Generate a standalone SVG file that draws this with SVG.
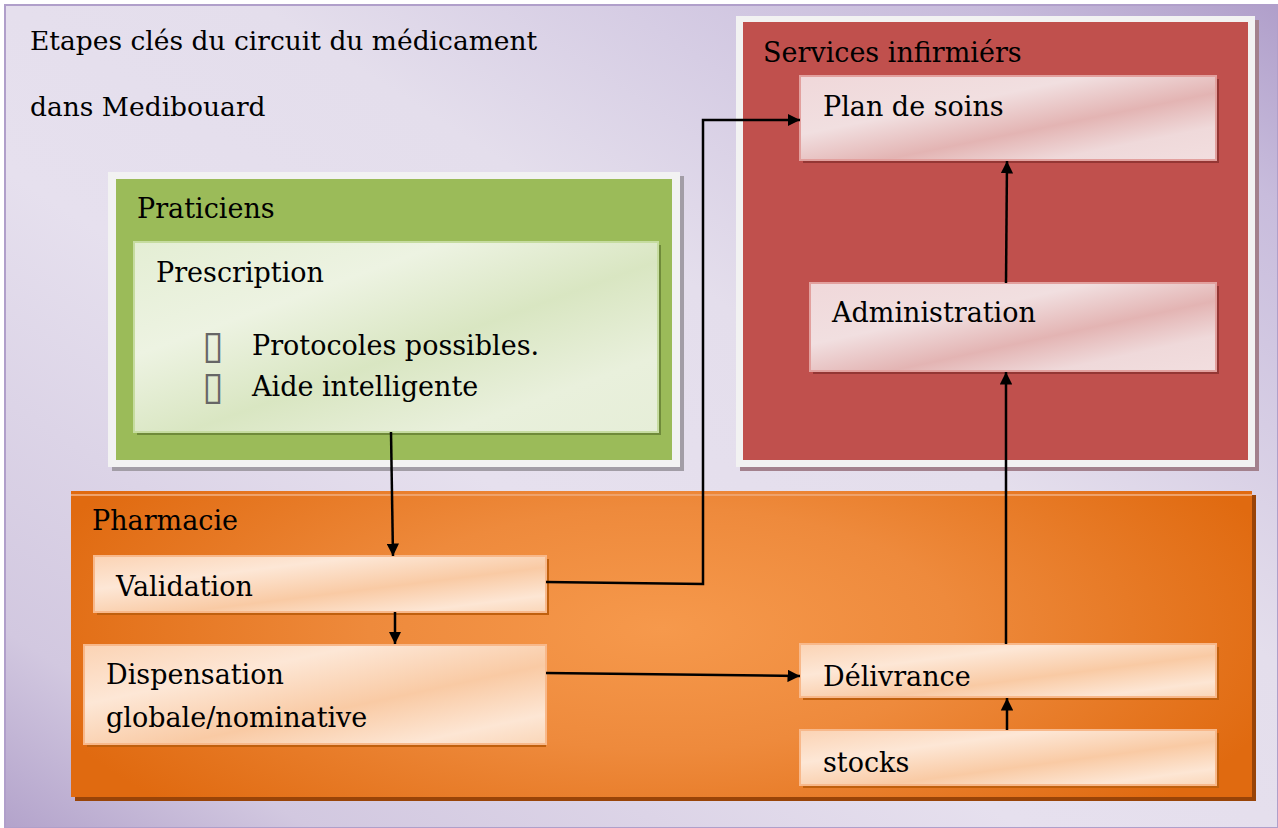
<svg xmlns="http://www.w3.org/2000/svg" width="1278" height="828" viewBox="0 0 1278 828">
<defs>
  <linearGradient id="bg" x1="0" y1="1" x2="1" y2="0">
    <stop offset="0" stop-color="#b3a3cb"/>
    <stop offset="0.12" stop-color="#d2c8e0"/>
    <stop offset="0.4" stop-color="#e6e0ee"/>
    <stop offset="0.6" stop-color="#e4deec"/>
    <stop offset="0.88" stop-color="#c8bcdc"/>
    <stop offset="1" stop-color="#b09fca"/>
  </linearGradient>
  <radialGradient id="orange" cx="0.5" cy="0.45" r="0.55" gradientTransform="translate(0.5 0.45) scale(1 1.6) translate(-0.5 -0.45)">
    <stop offset="0" stop-color="#f6994c"/>
    <stop offset="0.45" stop-color="#ee8a3c"/>
    <stop offset="1" stop-color="#e06a10"/>
  </radialGradient>
  <linearGradient id="gbox" x1="0" y1="0" x2="1" y2="1">
    <stop offset="0" stop-color="#e4eed4"/>
    <stop offset="0.3" stop-color="#edf3e2"/>
    <stop offset="0.55" stop-color="#d9e6c2"/>
    <stop offset="0.8" stop-color="#e9f0dc"/>
    <stop offset="1" stop-color="#e6eed8"/>
  </linearGradient>
  <linearGradient id="rbox" x1="0" y1="0" x2="1" y2="1">
    <stop offset="0" stop-color="#f0d8da"/>
    <stop offset="0.35" stop-color="#f1dfe0"/>
    <stop offset="0.6" stop-color="#e3b4b3"/>
    <stop offset="0.8" stop-color="#efd9da"/>
    <stop offset="1" stop-color="#f2dedf"/>
  </linearGradient>
  <linearGradient id="obox" x1="0" y1="0" x2="1" y2="1">
    <stop offset="0" stop-color="#fbd3b4"/>
    <stop offset="0.3" stop-color="#fde7d6"/>
    <stop offset="0.6" stop-color="#f9caa4"/>
    <stop offset="0.85" stop-color="#fde6d4"/>
    <stop offset="1" stop-color="#fad6b8"/>
  </linearGradient>
  <marker id="ah" viewBox="0 0 10 10" refX="10" refY="5" markerWidth="5" markerHeight="5" markerUnits="strokeWidth" orient="auto">
    <path d="M0,0 L10,5 L0,10 z" fill="#000"/>
  </marker>
  <style>
    text { font-family: "DejaVu Serif", "Liberation Serif", serif; fill: #000; }
    .t { font-size: 27px; }
    .h { font-size: 26.5px; }
    .bul { font-family: "DejaVu Sans", sans-serif; font-size: 39px; fill: #666; }
    .frame { fill: #f2f2f2; }
    .conn { fill: none; stroke: #000; stroke-width: 2.5; marker-end: url(#ah); }
    .bx { stroke-width: 2; }
  </style>
</defs>

<rect x="5" y="5" width="1273" height="823" fill="url(#bg)" stroke="#b09fca" stroke-width="2"/>
<g id="title">
  <text class="h" x="30" y="50">Etapes clés du circuit du médicament</text>
  <text class="h" x="30" y="116">dans Medibouard</text>
</g>

<g id="praticiens">
  <rect x="112" y="176" width="572" height="295" fill="#a29da6"/>
  <rect x="108" y="172" width="572" height="295" class="frame"/>
  <rect x="116" y="179" width="556" height="281" fill="#9bbb59"/>
  <text class="t" x="137" y="218">Praticiens</text>
  <g id="prescription">
    <rect x="137" y="245" width="524" height="190" fill="#6f8a3a"/>
    <rect x="134" y="242" width="524" height="190" fill="url(#gbox)" stroke="#c6dca0" class="bx"/>
    <text class="t" x="156" y="282">Prescription</text>
    <text class="bul" x="202" y="358">▯</text>
    <text class="t" x="252" y="355">Protocoles possibles.</text>
    <text class="bul" x="202" y="399">▯</text>
    <text class="t" x="252" y="396">Aide intelligente</text>
  </g>
</g>

<g id="services">
  <rect x="740" y="20" width="519" height="451" fill="#a3818d"/>
  <rect x="736" y="16" width="519" height="451" class="frame"/>
  <rect x="743" y="22" width="505" height="438" fill="#c0504d"/>
  <text class="t" x="763" y="62">Services infirmiérs</text>
  <g id="plan">
    <rect x="803" y="79" width="416" height="84" fill="#943634"/>
    <rect x="800" y="76" width="416" height="84" fill="url(#rbox)" stroke="#e2a09e" class="bx"/>
    <text class="t" x="823" y="116">Plan de soins</text>
  </g>
  <g id="administration">
    <rect x="813" y="286" width="406" height="88" fill="#943634"/>
    <rect x="810" y="283" width="406" height="88" fill="url(#rbox)" stroke="#e2a09e" class="bx"/>
    <text class="t" x="832" y="322">Administration</text>
  </g>
</g>

<g id="pharmacie">
  <rect x="75" y="495" width="1181" height="306" fill="#994408"/>
  <rect x="71" y="491" width="1181" height="306" fill="url(#orange)"/>
  <line x1="71" y1="495" x2="1252" y2="495" stroke="#f0a26a" stroke-width="2"/>
  <text class="t" x="92" y="530">Pharmacie</text>
  <g id="validation">
    <rect x="97" y="559" width="452" height="56" fill="#c0600e"/>
    <rect x="94" y="556" width="452" height="56" fill="url(#obox)" stroke="#f8b88a" class="bx"/>
    <text class="t" x="116" y="596">Validation</text>
  </g>
  <g id="dispensation">
    <rect x="87" y="648" width="459" height="99" fill="#c0600e"/>
    <rect x="84" y="645" width="462" height="99" fill="url(#obox)" stroke="#f8b88a" class="bx"/>
    <text class="t" x="106" y="684">Dispensation</text>
    <text class="t" x="106" y="727">globale/nominative</text>
  </g>
  <g id="delivrance">
    <rect x="803" y="647" width="416" height="53" fill="#c0600e"/>
    <rect x="800" y="644" width="416" height="53" fill="url(#obox)" stroke="#f8b88a" class="bx"/>
    <text class="t" x="823" y="686">Délivrance</text>
  </g>
  <g id="stocks">
    <rect x="803" y="733" width="416" height="55" fill="#c0600e"/>
    <rect x="800" y="730" width="416" height="55" fill="url(#obox)" stroke="#f8b88a" class="bx"/>
    <text class="t" x="823" y="772">stocks</text>
  </g>
</g>

<g id="connectors">
  <path class="conn" d="M391,432 L393,556"/>
  <path class="conn" d="M395,612 L395,644"/>
  <path class="conn" d="M546,582 L703,584 L703,120 L800,120"/>
  <path class="conn" d="M546,673 L800,676"/>
  <path class="conn" d="M1007,730 L1007,698"/>
  <path class="conn" d="M1006,644 L1006,372"/>
  <path class="conn" d="M1006,283 L1007,161"/>
</g>
</svg>
